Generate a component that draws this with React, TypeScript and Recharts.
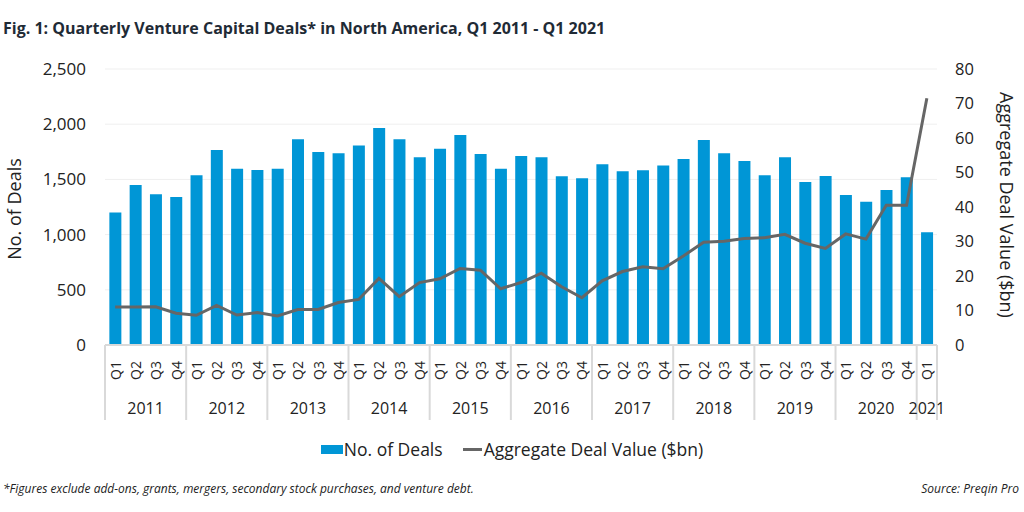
import { ComposedChart, Bar, Line, XAxis, YAxis, CartesianGrid, Legend } from "recharts";

const FONT = "'Open Sans', sans-serif";
const BLUE = "#0096d6";
const GREY = "#666666";
const AXIS = "#d9d9d9";
const TEXT = "#222222";

const years = ["2011", "2012", "2013", "2014", "2015", "2016", "2017", "2018", "2019", "2020", "2021"];
const quarterNames = ["Q1", "Q2", "Q3", "Q4"];

// No. of deals per quarter, Q1 2011 - Q1 2021
const deals = [
  1200, 1450, 1365, 1340,
  1537, 1766, 1597, 1585,
  1597, 1863, 1748, 1736,
  1808, 1966, 1863, 1700,
  1778, 1902, 1730, 1597,
  1712, 1700, 1528, 1510,
  1637, 1573, 1582, 1627,
  1685, 1857, 1736, 1667,
  1537, 1700, 1476, 1531,
  1359, 1298, 1404, 1519,
  1021,
];

// Aggregate deal value ($bn)
const dealValue = [
  11, 11, 11.1, 9.2,
  8.6, 11.5, 8.7, 9.4,
  8.4, 10.3, 10.3, 12.3,
  13.2, 19.3, 14, 18.1,
  19.2, 22.2, 21.7, 16.3,
  18.1, 20.8, 16.9, 13.7,
  18.6, 21.3, 22.7, 22.1,
  25.8, 29.8, 30.1, 30.9,
  31.1, 32.1, 29.5, 28,
  32.2, 30.7, 40.5, 40.5,
  71.5,
];

const leftTicks = [0, 500, 1000, 1500, 2000, 2500];
const rightTicks = [0, 10, 20, 30, 40, 50, 60, 70, 80];

const data = deals.map((d, i) => ({
  id: `${years[Math.floor(i / 4)]} ${quarterNames[i % 4]}`,
  q: quarterNames[i % 4],
  year: years[Math.floor(i / 4)],
  deals: d,
  value: dealValue[i],
}));

function QuarterTick(props: any) {
  const { x, y, payload, index } = props;
  const i = typeof index === "number" ? index : payload.index;
  const half = payload && typeof payload.offset === "number" && payload.offset > 0 ? payload.offset : 832 / data.length / 2;
  const row = data[i];
  if (!row) return null;
  const first = i % 4 === 0;
  const count = Math.min(4, data.length - i);
  return (
    <g>
      <text
        x={x}
        y={y + 16}
        transform={`rotate(-90, ${x}, ${y + 16})`}
        textAnchor="end"
        dominantBaseline="central"
        fontSize={14}
        fontFamily={FONT}
        fill={TEXT}
      >
        {row.q}
      </text>
      {first && <line x1={x - half} x2={x - half} y1={y} y2={y + 75} stroke={AXIS} strokeWidth={2} />}
      {i === data.length - 1 && <line x1={x + half} x2={x + half} y1={y} y2={y + 75} stroke={AXIS} strokeWidth={2} />}
      {first && (
        <text
          x={x - half + half * count}
          y={y + 63}
          textAnchor="middle"
          dominantBaseline="central"
          fontSize={16}
          fontFamily={FONT}
          fill={TEXT}
        >
          {row.year}
        </text>
      )}
    </g>
  );
}

function LeftLabel(props: any) {
  const vb = props.viewBox || { x: 0, y: 69, width: 105, height: 276 };
  const cx = vb.x + 14;
  const cy = vb.y + vb.height / 2 + 2;
  return (
    <text x={cx} y={cy} transform={`rotate(-90, ${cx}, ${cy})`} textAnchor="middle" dominantBaseline="central" fontSize={18} fontFamily={FONT} fill={TEXT}>
      No. of Deals
    </text>
  );
}

function RightLabel(props: any) {
  const vb = props.viewBox || { x: 937, y: 69, width: 87, height: 276 };
  const cx = vb.x + 70;
  const cy = vb.y + vb.height / 2 - 2;
  return (
    <text x={cx} y={cy} transform={`rotate(90, ${cx}, ${cy})`} textAnchor="middle" dominantBaseline="central" fontSize={18} fontFamily={FONT} fill={TEXT}>
      Aggregate Deal Value ($bn)
    </text>
  );
}

function LegendContent(props: any) {
  // bars first, then the line
  const items = [...(props.payload || [])].sort(
    (a: any, b: any) => (a.type === "plainline" ? 1 : 0) - (b.type === "plainline" ? 1 : 0)
  );
  return (
    <div style={{ display: "flex", justifyContent: "center", alignItems: "center", fontFamily: FONT, fontSize: 17.5, color: TEXT }}>
      {items.map((it: any, k: number) => (
        <div key={k} style={{ display: "flex", alignItems: "center", marginLeft: k === 0 ? 0 : 20 }}>
          {it.type === "plainline" ? (
            <span style={{ display: "inline-block", width: 19, height: 3, background: it.color, marginRight: 2 }} />
          ) : (
            <span style={{ display: "inline-block", width: 22, height: 9, background: it.color, marginRight: 1 }} />
          )}
          <span>{it.value}</span>
        </div>
      ))}
    </div>
  );
}

export default function App() {
  return (
    <div style={{ position: "absolute", left: 0, top: 0, width: 1024, height: 512, background: "#fff", overflow: "hidden" }}>
      <div style={{ position: "absolute", left: 0, top: 0 }}>
        <ComposedChart width={1024} height={512} data={data} margin={{ top: 69, right: 0, bottom: 87, left: 0 }} barCategoryGap="21.5%">
          <CartesianGrid yAxisId="left" horizontal vertical={false} stroke="#efefef" />
          <XAxis
            dataKey="id"
            interval={0}
            height={80}
            tickSize={0}
            tickMargin={0}
            tickLine={false}
            axisLine={{ stroke: AXIS, strokeWidth: 2 }}
            tick={<QuarterTick />}
          />
          <YAxis
            yAxisId="left"
            orientation="left"
            width={105}
            domain={[0, 2500]}
            ticks={leftTicks}
            tickFormatter={(v: number) => v.toLocaleString("en-US")}
            axisLine={false}
            tickLine={false}
            tickSize={0}
            tickMargin={19}
            tick={{ fontSize: 17, fill: TEXT, fontFamily: FONT }}
            label={{ content: <LeftLabel /> }}
          />
          <YAxis
            yAxisId="right"
            orientation="right"
            width={87}
            domain={[0, 80]}
            ticks={rightTicks}
            axisLine={false}
            tickLine={false}
            tickSize={0}
            tickMargin={18}
            tick={{ fontSize: 16.5, fill: TEXT, fontFamily: FONT }}
            label={{ content: <RightLabel /> }}
          />
          <Bar yAxisId="left" dataKey="deals" name="No. of Deals" fill={BLUE} legendType="rect" isAnimationActive={false} />
          <Line
            yAxisId="right"
            dataKey="value"
            name="Aggregate Deal Value ($bn)"
            type="linear"
            stroke={GREY}
            strokeWidth={3}
            dot={false}
            activeDot={false}
            legendType="plainline"
            isAnimationActive={false}
          />
          <Legend
            layout="horizontal"
            verticalAlign="middle"
            align="center"
            wrapperStyle={{ top: 437, left: 0, width: 1024 }}
            content={<LegendContent />}
          />
        </ComposedChart>
      </div>
      <div style={{ position: "absolute", left: 3, top: 17, fontFamily: FONT, fontWeight: 700, fontSize: 16, color: "#1f2b36", whiteSpace: "nowrap" }}>
        Fig. 1: Quarterly Venture Capital Deals* in North America, Q1 2011 - Q1 2021
      </div>
      <div style={{ position: "absolute", left: 3, top: 480, fontFamily: FONT, fontStyle: "italic", fontSize: 12, color: TEXT, whiteSpace: "nowrap" }}>
        *Figures exclude add-ons, grants, mergers, secondary stock purchases, and venture debt.
      </div>
      <div style={{ position: "absolute", right: 5, top: 480, fontFamily: FONT, fontStyle: "italic", fontSize: 12, color: TEXT, whiteSpace: "nowrap" }}>
        Source: Preqin Pro
      </div>
    </div>
  );
}
